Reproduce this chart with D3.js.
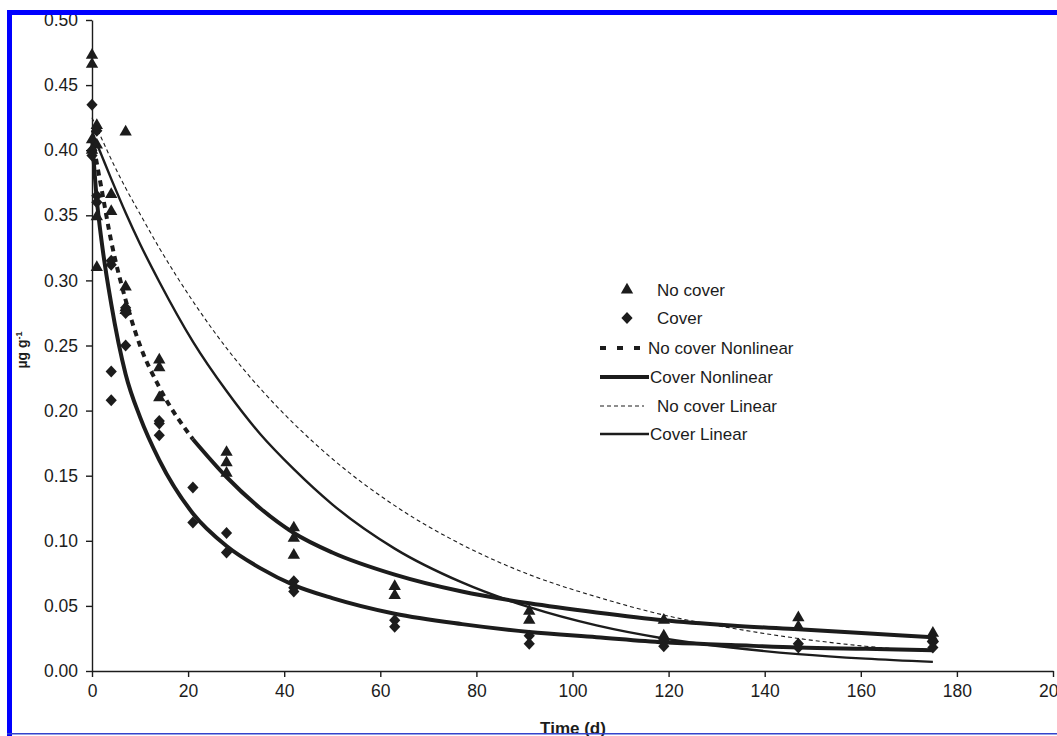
<!DOCTYPE html>
<html>
<head>
<meta charset="utf-8">
<script src="https://cdn.jsdelivr.net/npm/d3@7"></script>
<style>
  body { margin: 0; background: #fff; }
  svg { display: block; font-family: "Liberation Sans", Arial, sans-serif; }
</style>
</head>
<body>
<script>
const width = 1057;
const height = 736;

// measured points (day, value)
const noCoverDays = [0, 0, 0, 0, 1, 1, 1, 1, 4, 4, 7, 7, 7, 7, 14, 14, 14, 28, 28, 28, 42, 42, 42, 63, 63, 91, 91, 119, 119, 119, 147, 147, 175, 175];
const noCoverVals = [0.473, 0.466, 0.408, 0.400, 0.419, 0.404, 0.349, 0.310, 0.366, 0.353, 0.414, 0.295, 0.279, 0.277,
                     0.239, 0.233, 0.210, 0.168, 0.160, 0.152, 0.110, 0.102, 0.089, 0.065, 0.058, 0.046, 0.039,
                     0.039, 0.027, 0.025, 0.041, 0.034, 0.029, 0.025];

const coverDays = [0, 0, 0, 1, 1, 1, 4, 4, 4, 4, 7, 7, 7, 14, 14, 14, 21, 21, 28, 28, 42, 42, 42, 63, 63, 91, 91, 119, 119, 147, 147, 175, 175];
const coverVals = [0.435, 0.400, 0.396, 0.415, 0.365, 0.360, 0.315, 0.312, 0.230, 0.208, 0.279, 0.275, 0.250,
                   0.192, 0.190, 0.181, 0.141, 0.114, 0.106, 0.091, 0.069, 0.064, 0.061, 0.039, 0.034,
                   0.027, 0.021, 0.022, 0.019, 0.021, 0.018, 0.022, 0.018];

// fitted curves
const curveDays = [0, 1, 2, 4, 7, 10, 14, 21, 28, 35, 42, 50, 63, 77, 91, 105, 119, 133, 147, 161, 175];
const noCoverNonlinear = [0.410, 0.390, 0.370, 0.330, 0.285, 0.250, 0.218, 0.178, 0.149, 0.125, 0.106, 0.091, 0.074, 0.061, 0.052, 0.045, 0.039, 0.035, 0.032, 0.029, 0.026];
const coverNonlinear = [0.410, 0.362, 0.330, 0.282, 0.228, 0.195, 0.162, 0.121, 0.096, 0.079, 0.066, 0.056, 0.044, 0.036, 0.030, 0.026, 0.022, 0.020, 0.018, 0.017, 0.016];
const noCoverLinear = [0.425, 0.417, 0.409, 0.393, 0.371, 0.351, 0.325, 0.284, 0.248, 0.217, 0.190, 0.163, 0.127, 0.097, 0.074, 0.057, 0.043, 0.033, 0.025, 0.019, 0.015];
const coverLinear = [0.415, 0.405, 0.396, 0.378, 0.352, 0.328, 0.299, 0.253, 0.215, 0.182, 0.155, 0.128, 0.094, 0.068, 0.049, 0.035, 0.025, 0.018, 0.013, 0.0095, 0.007];

const xTicks = [0, 20, 40, 60, 80, 100, 120, 140, 160, 180, 200];
const yTicks = [0, 0.05, 0.10, 0.15, 0.20, 0.25, 0.30, 0.35, 0.40, 0.45, 0.50];

const legendLabels = ["No cover", "Cover", "No cover Nonlinear", "Cover Nonlinear", "No cover Linear", "Cover Linear"];

const ink = "#1c1c1c";

const svg = d3.select("body").append("svg")
  .attr("width", width)
  .attr("height", height);

const x = d3.scaleLinear().domain([0, 200]).range([92, 1053]);
const y = d3.scaleLinear().domain([0, 0.5]).range([671, 20]);

// axes
const xAxis = svg.append("g")
  .attr("transform", "translate(0," + y(0) + ")")
  .call(d3.axisBottom(x).tickValues(xTicks).tickSize(6).tickSizeOuter(0).tickPadding(8).tickFormat(d3.format("d")));

const yAxis = svg.append("g")
  .attr("transform", "translate(" + x(0) + ",0)")
  .call(d3.axisLeft(y).tickValues(yTicks).tickSize(6).tickSizeOuter(0).tickPadding(8).tickFormat(d3.format(".2f")));

[xAxis, yAxis].forEach(function(g) {
  g.selectAll("path, line").attr("stroke", ink).attr("stroke-width", 1.4);
  g.selectAll("text").attr("fill", ink).style("font-size", "17.5px")
    .style("font-family", "'Liberation Sans', Arial, sans-serif");
});

// axis titles (the bottom one is clipped by the frame, as in the source)
svg.append("text")
  .attr("x", 573)
  .attr("y", 734)
  .attr("text-anchor", "middle")
  .style("font-size", "17px")
  .style("font-weight", "bold")
  .attr("fill", ink)
  .text("Time (d)");

const yTitle = svg.append("text")
  .attr("transform", "translate(27,350) rotate(-90)")
  .attr("text-anchor", "middle")
  .style("font-size", "14px")
  .style("font-weight", "bold")
  .attr("fill", ink);
yTitle.append("tspan").text("µg g");
yTitle.append("tspan").attr("dy", -5).style("font-size", "9px").text("-1");

// curves
const line = d3.line()
  .x(function(d) { return x(d[0]); })
  .y(function(d) { return y(d[1]); })
  .curve(d3.curveMonotoneX);

function pairs(vals) {
  return curveDays.map(function(d, i) { return [d, vals[i]]; });
}

const splitAt = curveDays.indexOf(21);
const ncn = pairs(noCoverNonlinear);

svg.append("path").attr("d", line(pairs(noCoverLinear)))
  .attr("fill", "none").attr("stroke", ink).attr("stroke-width", 1.1).attr("stroke-dasharray", "4,3");
svg.append("path").attr("d", line(pairs(coverLinear)))
  .attr("fill", "none").attr("stroke", ink).attr("stroke-width", 2.4);
svg.append("path").attr("d", line(pairs(coverNonlinear)))
  .attr("fill", "none").attr("stroke", ink).attr("stroke-width", 4);
svg.append("path").attr("d", line(ncn.slice(0, splitAt + 1)))
  .attr("fill", "none").attr("stroke", ink).attr("stroke-width", 4).attr("stroke-dasharray", "6,5");
svg.append("path").attr("d", line(ncn.slice(splitAt)))
  .attr("fill", "none").attr("stroke", ink).attr("stroke-width", 4);

// points
const tri = d3.symbol().type(d3.symbolTriangle).size(66);
const dia = "M0,-6L5.6,0L0,6L-5.6,0Z";

svg.append("g").selectAll("path")
  .data(noCoverDays.map(function(d, i) { return [d, noCoverVals[i]]; }))
  .enter().append("path")
  .attr("d", tri)
  .attr("transform", function(d) { return "translate(" + x(d[0]) + "," + y(d[1]) + ")"; })
  .attr("fill", ink);

svg.append("g").selectAll("path")
  .data(coverDays.map(function(d, i) { return [d, coverVals[i]]; }))
  .enter().append("path")
  .attr("d", dia)
  .attr("transform", function(d) { return "translate(" + x(d[0]) + "," + y(d[1]) + ")"; })
  .attr("fill", ink);

// legend
const legendY = [290, 318, 348, 377, 406, 434];
const legend = svg.append("g");
legendLabels.forEach(function(label, i) {
  const ly = legendY[i];
  let tx = 657;
  if (i === 0) {
    legend.append("path").attr("d", tri).attr("transform", "translate(627," + ly + ")").attr("fill", ink);
  } else if (i === 1) {
    legend.append("path").attr("d", dia).attr("transform", "translate(627," + ly + ")").attr("fill", ink);
  } else if (i === 2) {
    legend.append("line").attr("x1", 600).attr("x2", 644).attr("y1", ly).attr("y2", ly)
      .attr("stroke", ink).attr("stroke-width", 4).attr("stroke-dasharray", "6,11");
    tx = 648;
  } else if (i === 3) {
    legend.append("line").attr("x1", 600).attr("x2", 649).attr("y1", ly).attr("y2", ly)
      .attr("stroke", ink).attr("stroke-width", 4);
    tx = 650;
  } else if (i === 4) {
    legend.append("line").attr("x1", 600).attr("x2", 644).attr("y1", ly).attr("y2", ly)
      .attr("stroke", ink).attr("stroke-width", 1.1).attr("stroke-dasharray", "4,3");
  } else {
    legend.append("line").attr("x1", 600).attr("x2", 649).attr("y1", ly).attr("y2", ly)
      .attr("stroke", ink).attr("stroke-width", 2.4);
    tx = 650;
  }
  legend.append("text")
    .attr("x", tx)
    .attr("y", ly)
    .attr("dy", "0.35em")
    .style("font-size", "17px")
    .attr("fill", ink)
    .text(label);
});

// blue frame drawn over the chart
svg.append("rect").attr("x", 7).attr("y", 10).attr("width", width - 7).attr("height", 5).attr("fill", "#0000ff");
svg.append("rect").attr("x", 7).attr("y", 10).attr("width", 5).attr("height", height - 10).attr("fill", "#0000ff");
svg.append("rect").attr("x", 7).attr("y", 733).attr("width", width - 7).attr("height", 1.5).attr("fill", "#3344cc");
</script>
</body>
</html>
